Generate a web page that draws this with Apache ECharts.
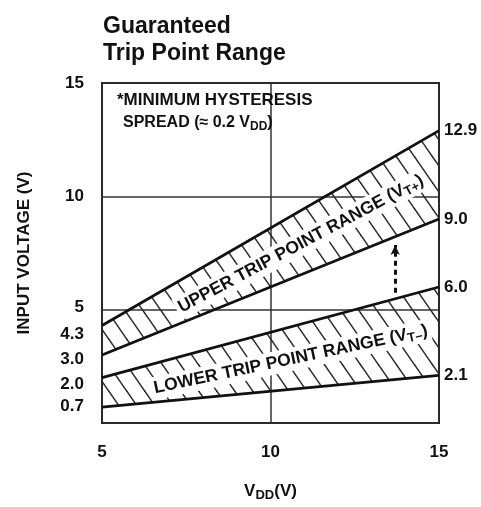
<!DOCTYPE html>
<html><head><meta charset="utf-8">
<script src="https://cdn.jsdelivr.net/npm/echarts@6/dist/echarts.min.js"></script>
<style>html,body{margin:0;padding:0;background:#fff}#c{width:481px;height:507px}</style>
</head><body><div id="c"></div>
<script>
// ---- data ----
const vdd = [5, 15];
const upperHigh = [4.3, 12.9];
const upperLow = [3.0, 9.0];
const lowerHigh = [2.0, 6.0];
const lowerLow = [0.7, 2.1];
const yTickValues = [0, 0.7, 2.0, 3.0, 4.3, 5, 10, 15];
const yTickLabels = ['0', '0.7', '2.0', '3.0', '4.3', '5', '10', '15'];
const rightTickValues = [2.1, 6.0, 9.0, 12.9];
const rightTickLabels = ['2.1', '6.0', '9.0', '12.9'];
const spreadArrowX = 13.7;
const spreadArrowY = [5.75, 7.85];
const upperLabelAt = [10.9, 7.9];
const lowerLabelAt = [10.6, 2.8];

// ---- layout nudges for crowded left labels (px, + = down) ----
const yLabelNudge = [6, -1, 7, 4, 9, -2, 0, 0];

const FONT = "'Liberation Sans', Arial, Helvetica, sans-serif";
const INK = '#111';

// hatch pattern
function hatch() {
  const w = 18, h = 26;
  const c = document.createElement('canvas');
  c.width = w; c.height = h;
  const g = c.getContext('2d');
  g.strokeStyle = '#2a2a2a'; g.lineWidth = 1.5;
  for (const off of [-w, 0, w]) {
    g.beginPath(); g.moveTo(off - w, -h); g.lineTo(off + 2 * w, 2 * h); g.stroke();
  }
  return c;
}
const pattern = { image: hatch(), repeat: 'repeat' };

const pts = (ys) => vdd.map((x, i) => [x, ys[i]]);
const bands = [[lowerLow, lowerHigh], [upperLow, upperHigh]];

const edge = { color: INK, width: 2.8 };
const edgeSeries = (name, ys) => ({ name, type: 'line', data: pts(ys), symbol: 'none', lineStyle: edge, z: 4, silent: true });

const rich = {};
yLabelNudge.forEach((d, i) => {
  rich['l' + i] = {
    fontFamily: FONT, fontWeight: 'bold', fontSize: 17, color: INK, lineHeight: 18,
    padding: d >= 0 ? [2 * d, 0, 0, 0] : [0, 0, -2 * d, 0]
  };
});

const chart = echarts.init(document.getElementById('c'), null, { renderer: 'canvas' });
chart.setOption({
  animation: false,
  backgroundColor: '#fff',
  title: {
    text: 'Guaranteed\nTrip Point Range',
    left: 98, top: 8,
    textStyle: { fontFamily: FONT, fontWeight: 'bold', fontSize: 23, lineHeight: 27, color: INK }
  },
  grid: { left: 102, right: 42, top: 83, bottom: 80, show: true, borderColor: INK, borderWidth: 2, backgroundColor: 'transparent' },
  xAxis: {
    type: 'value', min: 5, max: 15, interval: 5,
    axisLine: { show: false }, axisTick: { show: false },
    splitLine: { show: true, lineStyle: { color: '#333', width: 1.5 } },
    axisLabel: { margin: 21, fontFamily: FONT, fontWeight: 'bold', fontSize: 17, color: INK },
    name: '{v|V}{s|DD}{v|(V)}', nameLocation: 'middle', nameGap: 58,
    nameTextStyle: {
      rich: {
        v: { fontFamily: FONT, fontWeight: 'bold', fontSize: 17, color: INK },
        s: { fontFamily: FONT, fontWeight: 'bold', fontSize: 13, color: INK, padding: [8, 0, 0, 0] }
      }
    }
  },
  yAxis: [{
    type: 'value', min: 0, max: 15, interval: 5,
    axisLine: { show: false }, axisTick: { show: false },
    splitLine: { show: true, lineStyle: { color: '#333', width: 1.5 } },
    axisLabel: {
      margin: 18, customValues: yTickValues, hideOverlap: false,
      formatter: (v) => { const i = yTickValues.indexOf(v); return '{l' + i + '|' + yTickLabels[i] + '}'; },
      rich: rich
    },
    name: 'INPUT VOLTAGE (V)', nameLocation: 'middle', nameGap: 69, nameRotate: 90,
    nameTextStyle: { fontFamily: FONT, fontWeight: 'bold', fontSize: 17, color: INK }
  }, {
    type: 'value', min: 0, max: 15, position: 'right',
    axisLine: { show: false }, axisTick: { show: false }, splitLine: { show: false },
    axisLabel: {
      margin: 5, customValues: rightTickValues, hideOverlap: false,
      formatter: (v) => rightTickLabels[rightTickValues.indexOf(v)],
      fontFamily: FONT, fontWeight: 'bold', fontSize: 17, color: INK
    }
  }],
  series: [
    {
      name: 'bands', type: 'custom', silent: true, z: 2,
      data: bands.map((b, i) => i),
      renderItem: (params, api) => {
        const [lo, hi] = bands[api.value(0)];
        const top = vdd.map((x, i) => api.coord([x, hi[i]]));
        const bot = vdd.map((x, i) => api.coord([x, lo[i]])).reverse();
        return { type: 'polygon', shape: { points: top.concat(bot) }, style: { fill: pattern, stroke: null } };
      },
      encode: { x: -1, y: -1 }
    },
    Object.assign(edgeSeries('lowerLow', lowerLow), {
      markLine: {
        silent: true, symbol: ['none', 'arrow'], symbolSize: [7, 10],
        lineStyle: { color: INK, width: 3, type: [5, 4] }, label: { show: false },
        data: [[{ coord: [spreadArrowX, spreadArrowY[0]] }, { coord: [spreadArrowX, spreadArrowY[1]] }]]
      }
    }),
    edgeSeries('lowerHigh', lowerHigh),
    edgeSeries('upperLow', upperLow),
    edgeSeries('upperHigh', upperHigh)
  ]
});

function bandLabel(at, angleDeg, word, sub) {
  const p = chart.convertToPixel({ gridIndex: 0 }, at);
  return {
    type: 'text', x: p[0], y: p[1], rotation: angleDeg * Math.PI / 180, z: 100,
    style: {
      text: '{m|' + word + ' (V}{s|' + sub + '}{m|)}',
      align: 'center', verticalAlign: 'middle',
      backgroundColor: '#fff', padding: [1, 3],
      rich: {
        m: { fontFamily: FONT, fontWeight: 'bold', fontSize: 17.5, fill: INK },
        s: { fontFamily: FONT, fontWeight: 'bold', fontSize: 13, fill: INK, padding: [8, 0, 0, 0] }
      }
    }
  };
}

chart.setOption({
  graphic: [
    {
      type: 'text', left: 117, top: 92, z: 100,
      style: { text: '*MINIMUM HYSTERESIS', fontFamily: FONT, fontWeight: 'bold', fontSize: 17, fill: INK }
    },
    {
      type: 'text', left: 123, top: 115, z: 100,
      style: {
        text: '{m|SPREAD (≈ 0.2 V}{s|DD}{m|)}',
        rich: {
          m: { fontFamily: FONT, fontWeight: 'bold', fontSize: 16, fill: INK },
          s: { fontFamily: FONT, fontWeight: 'bold', fontSize: 12, fill: INK, padding: [8, 0, 0, 0] }
        }
      }
    },
    bandLabel(upperLabelAt, 28, 'UPPER TRIP POINT RANGE', 'T+'),
    bandLabel(lowerLabelAt, 12, 'LOWER TRIP POINT RANGE', 'T–')
  ]
});
</script>
</body></html>
